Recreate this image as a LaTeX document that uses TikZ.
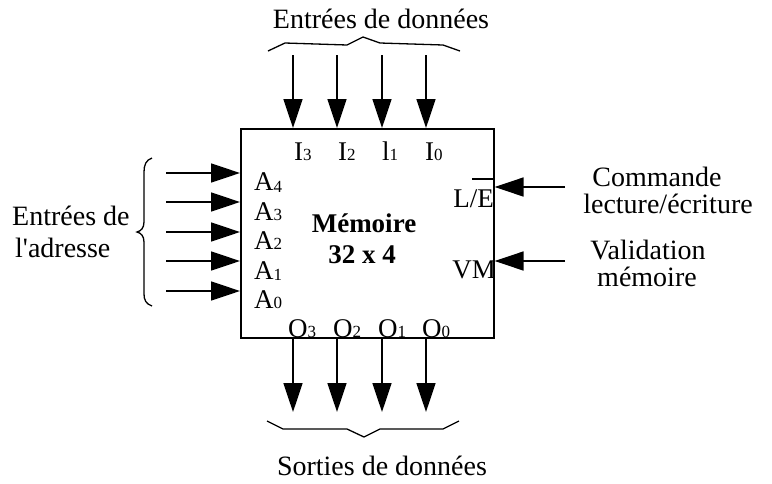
\documentclass[tikz,border=0pt]{standalone}
\usepackage{fontspec}
\setmainfont{Liberation Serif}
\usetikzlibrary{arrows.meta}
\newcommand{\sub}[1]{{\fontsize{17}{17}\selectfont #1}}
\begin{document}
\begin{tikzpicture}[x=1pt,y=-1pt,
  wire/.style={line width=1.6pt,-{Triangle[length=29pt,width=19pt]}},
  brace/.style={line width=1.3pt},
  txt/.style={inner sep=0pt,font=\fontsize{28}{28}\selectfont},
  lbl/.style={inner sep=0pt,anchor=base west,font=\fontsize{27}{27}\selectfont},
  bold/.style={inner sep=0pt,anchor=base,font=\fontsize{27}{27}\selectfont\bfseries}]
\useasboundingbox (0,0) rectangle (772,483);
% box
\node[draw,line width=1.6pt,inner sep=0pt,minimum width=253pt,minimum height=209pt,anchor=north west] (mem) at (240,128) {};
\node[bold] (t1) at (364,232) {Mémoire};
\node[bold] (t2) at (362,263) {32 x 4};
% top inputs
\foreach \n/\x in {i3/293,i2/337,i1/382,i0/426}{
  \coordinate (\n s) at (\x,55);
  \draw[wire] (\n s) -- (\n s |- mem.north);
}
\node[lbl] (li3) at (294,160) {I\sub{3}};
\node[lbl] (li2) at (338,160) {I\sub{2}};
\node[lbl] (li1) at (382,160) {l\sub{1}};
\node[lbl] (li0) at (425,160) {I\sub{0}};
\draw[brace] (268,51) -- (285,43) -- (347,45) -- (363,37) -- (380,43) -- (443,45) -- (460,51);
\node[txt,anchor=base] (tin) at (381,28) {Entrées de données};
% address inputs
\foreach \n/\y in {a4/173,a3/202,a2/232,a1/261,a0/291}{
  \coordinate (\n s) at (166,\y);
  \draw[wire] (\n s) -- (\n s -| mem.west);
}
\node[lbl] (la4) at (254,190) {A\raisebox{-2pt}{\sub{4}}};
\node[lbl] (la3) at (254,220) {A\sub{3}};
\node[lbl] (la2) at (254,249) {A\sub{2}};
\node[lbl] (la1) at (254,279) {A\raisebox{-1pt}{\sub{1}}};
\node[lbl] (la0) at (254,308) {A\sub{0}};
\draw[brace] (152,158) .. controls (146,160) and (144,165) .. (144,172) -- (144,222)
  .. controls (144,228) and (141,231) .. (137,232) .. controls (141,233) and (144,236) .. (144,242)
  -- (144,294) .. controls (144,300) and (146,304) .. (152,306);
\node[txt,anchor=base west] (tad1) at (12,225) {Entrées de};
\node[txt,anchor=base west] (tad2) at (15,257) {l\textquotesingle adresse};
% right inputs
\coordinate (les) at (565,187);
\coordinate (vms) at (565,261);
\draw[wire] (les) -- (les -| mem.east);
\draw[wire] (vms) -- (vms -| mem.east);
\node[lbl,anchor=base east] (lle) at (494,207) {L/E};
\draw[line width=1.4pt] (lle.north east) ++(0,-10) coordinate (ov) -- ++(-22,0);
\node[lbl,anchor=base east] (lvm) at (496,278) {VM};
\node[txt,anchor=base,text depth=0pt] (c1) at (657,186) {Commande};
\node[txt,anchor=base] (c2) at (668,213) {lecture/écriture};
\node[txt,anchor=base,text depth=0pt] (v1) at (648,259) {Validation};
\node[txt,anchor=base] (v2) at (647,286) {mémoire};
% outputs
\foreach \n/\x in {o3/293,o2/337,o1/382,o0/426}{
  \coordinate (\n e) at (\x,412);
  \draw[wire] (\n e |- mem.south) -- (\n e);
}
\node[lbl] (lo3) at (288,337) {O\sub{3}};
\node[lbl] (lo2) at (333,337) {O\sub{2}};
\node[lbl] (lo1) at (378,337) {O\sub{1}};
\node[lbl] (lo0) at (422,337) {O\sub{0}};
\draw[brace] (267,421) -- (283,429) -- (347,429) -- (364,437) -- (380,429) -- (443,429) -- (459,421);
\node[txt,anchor=base] (tout) at (382,475) {Sorties de données};
\end{tikzpicture}
\end{document}
